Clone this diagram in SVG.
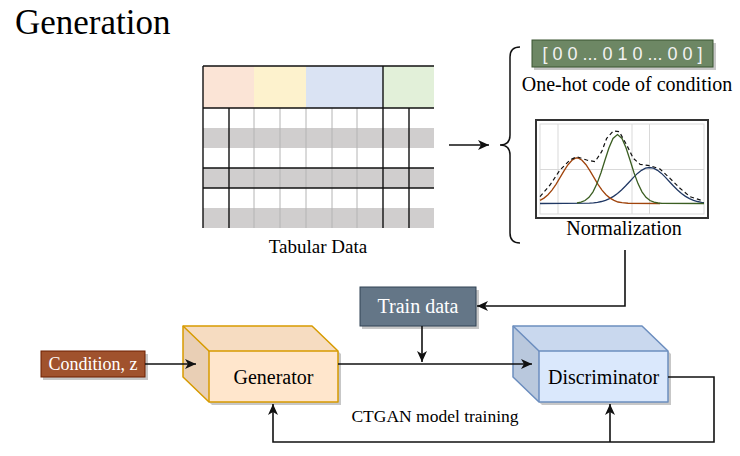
<svg xmlns="http://www.w3.org/2000/svg" width="740" height="456" viewBox="0 0 740 456">
<style>
.serif{font-family:"Liberation Serif","Times New Roman",serif;fill:#000}
.sans{font-family:"Liberation Sans",Arial,sans-serif}
.conn{fill:none;stroke:#111;stroke-width:1.6}
.sh{fill:#000;opacity:0.22}
.gl{stroke:#b4b4b4;stroke-width:1}
.bl{stroke:#111;stroke-width:1.4}
.grid{stroke:#d9d9d9;stroke-width:1;fill:none}
</style>
<defs>
<marker id="arr" markerUnits="userSpaceOnUse" markerWidth="12" markerHeight="10" refX="11" refY="5" orient="auto">
<path d="M0,0 L11,5 L0,10 L3,5 z" fill="#111"/>
</marker>
</defs>
<rect width="740" height="456" fill="#fff"/>
<text class="serif" x="15" y="34" font-size="35">Generation</text>

<g id="tabular-data">
<rect x="203" y="66" width="51" height="42" fill="#FBE4D6"/>
<rect x="254" y="66" width="52" height="42" fill="#FDF2CD"/>
<rect x="306" y="66" width="77" height="42" fill="#DAE3F3"/>
<rect x="383" y="66" width="51" height="42" fill="#E2F0D9"/>
<rect x="203" y="128" width="231" height="20" fill="#D0CECE"/>
<rect x="203" y="168" width="231" height="20" fill="#D0CECE"/>
<rect x="203" y="208" width="231" height="20" fill="#D0CECE"/>
<g class="gl">
<line x1="254" y1="108" x2="254" y2="228"/>
<line x1="280" y1="108" x2="280" y2="228"/>
<line x1="306" y1="108" x2="306" y2="228"/>
<line x1="332" y1="108" x2="332" y2="228"/>
<line x1="357" y1="108" x2="357" y2="228"/>
</g>
<g class="bl">
<line x1="203" y1="66" x2="434" y2="66"/>
<line x1="203" y1="108" x2="434" y2="108"/>
<line x1="203" y1="168" x2="434" y2="168"/>
<line x1="203" y1="188" x2="434" y2="188"/>
<line x1="203" y1="66" x2="203" y2="228"/>
<line x1="229" y1="108" x2="229" y2="228"/>
<line x1="383" y1="66" x2="383" y2="228"/>
<line x1="409" y1="108" x2="409" y2="228"/>
</g>
<text class="serif" x="318" y="253" font-size="19" text-anchor="middle">Tabular Data</text>
</g>

<g id="brace">
<path d="M520,47 Q510,47 510,57 L510,135 Q510,145 500,145 Q510,145 510,155 L510,233 Q510,243 520,243" fill="none" stroke="#111" stroke-width="1.5"/>
</g>

<g id="one-hot">
<rect class="sh" x="534" y="43" width="182" height="27"/>
<rect x="532" y="40" width="181" height="27" fill="#6D8764" stroke="#3A5431" stroke-width="1"/>
<text class="sans" x="622.5" y="60" font-size="18" fill="#f2f2f2" text-anchor="middle">[ 0 0 ... 0 1 0 ... 0 0 ]</text>
<text class="serif" x="627" y="91" font-size="20" text-anchor="middle">One-hot code of condition</text>
</g>

<g id="normalization">
<rect x="536" y="120" width="172" height="98" fill="#fff" stroke="#333" stroke-width="2"/>
<rect class="grid" x="540" y="124" width="164" height="90"/>
<line class="grid" x1="558" y1="124" x2="558" y2="214"/>
<line class="grid" x1="632" y1="124" x2="632" y2="214"/>
<line class="grid" x1="649.5" y1="124" x2="649.5" y2="214"/>
<line class="grid" x1="540" y1="169.5" x2="704" y2="169.5"/>
<polyline fill="none" stroke="#203864" stroke-width="1.3" points="540,203.5 589.5,203.1 593.5,202.8 597.5,202.3 601.5,201.5 605.5,200.3 609.5,198.6 613.5,196.4 617.5,193.5 621.5,190 625.5,186 629.5,181.7 633.5,177.4 637.5,173.4 641.5,170.3 645.5,168.2 649.5,167.5 653.5,168.2 657.5,170.3 661.5,173.4 665.5,177.4 669.5,181.7 673.5,186 677.5,190 681.5,193.5 685.5,196.4 689.5,198.6 693.5,200.3 697.5,201.5 701.5,202.3 704,202.6"/>
<polyline fill="none" stroke="#A0440C" stroke-width="1.3" points="540,200.4 544,198.1 548,194.7 552,190.1 556,184.3 560,177.6 564,170.8 568,164.7 572,160.2 576,158 578,158 582,160.2 586,164.7 590,170.8 594,177.6 598,184.3 602,190.1 606,194.7 610,198.1 614,200.4 618,202 622,202.7 628,203.25 660,203.5"/>
<polyline fill="none" stroke="#3B5E22" stroke-width="1.3" points="577,203 581,202.2 585,200.5 589,197.3 593,191.8 597,183.6 601,172.7 605,160 609,147.8 613,138.5 617.5,134.5 622,138.5 626,147.8 630,160 634,172.7 638,183.6 642,191.8 646,197.3 650,200.5 654,202.2 658,203 662,203.3 704,203.5"/>
<polyline fill="none" stroke="#111" stroke-width="1.2" stroke-dasharray="4,3" stroke-linejoin="round" points="540,196.7 550,185 560,170 570,160 576.7,156.7 586.7,160 595,161.7 601.7,151.7 606.7,138.3 613.3,131 619.3,131.7 626.7,145 633.3,158.3 640,164.3 650,165.7 660,169 670,178.3 680,188.3 690,196.7 703.3,201"/>
<text class="serif" x="624" y="235" font-size="20" text-anchor="middle">Normalization</text>
</g>

<g id="train-data">
<rect class="sh" x="362" y="290" width="117" height="39"/>
<rect x="360" y="287" width="116" height="39" fill="#647687" stroke="#314354" stroke-width="1"/>
<text class="serif" x="418" y="313" font-size="20" fill="#fff" style="fill:#fff" text-anchor="middle">Train data</text>
</g>

<g id="condition">
<rect class="sh" x="43" y="354" width="105" height="26"/>
<rect x="41" y="351" width="104" height="26" fill="#A0522D" stroke="#6D1F00" stroke-width="1"/>
<text class="serif" x="93" y="370" font-size="18" style="fill:#fff" text-anchor="middle">Condition, z</text>
</g>

<g id="generator">
<polygon class="sh" points="186,329 315,329 341,354 341,405 212,405 186,380"/>
<polygon points="183,326 209,351 209,402 183,377" fill="#E9CFB5"/>
<polygon points="183,326 312,326 338,351 209,351" fill="#F6DCC1"/>
<rect x="209" y="351" width="129" height="51" fill="#FFE6CC"/>
<polygon points="183,326 312,326 338,351 338,402 209,402 183,377" fill="none" stroke="#D79B00" stroke-width="1.5" stroke-linejoin="round"/>
<polyline points="183,326 209,351 338,351 M209,351" fill="none" stroke="#D79B00" stroke-width="1.5"/>
<line x1="209" y1="351" x2="209" y2="402" stroke="#D79B00" stroke-width="1.5"/>
<text class="serif" x="273.5" y="384" font-size="20" text-anchor="middle">Generator</text>
</g>

<g id="discriminator">
<polygon class="sh" points="516,329 645,329 671,354 671,405 542,405 516,380"/>
<polygon points="513,326 539,351 539,402 513,377" fill="#B9C8DD"/>
<polygon points="513,326 642,326 668,351 539,351" fill="#C9D8EE"/>
<rect x="539" y="351" width="129" height="51" fill="#DAE8FC"/>
<polygon points="513,326 642,326 668,351 668,402 539,402 513,377" fill="none" stroke="#6C8EBF" stroke-width="1.5" stroke-linejoin="round"/>
<polyline points="513,326 539,351 668,351" fill="none" stroke="#6C8EBF" stroke-width="1.5"/>
<line x1="539" y1="351" x2="539" y2="402" stroke="#6C8EBF" stroke-width="1.5"/>
<text class="serif" x="603.5" y="384" font-size="20" text-anchor="middle">Discriminator</text>
</g>

<text class="serif" x="435" y="422" font-size="17.5" text-anchor="middle">CTGAN model training</text>

<g id="connectors">
<line class="conn" x1="449" y1="145" x2="489" y2="145" marker-end="url(#arr)"/>
<polyline class="conn" points="625,250 625,306 477,306" marker-end="url(#arr)"/>
<line class="conn" x1="145" y1="364" x2="196" y2="364" marker-end="url(#arr)"/>
<line class="conn" x1="338" y1="364" x2="532" y2="364" marker-end="url(#arr)"/>
<line class="conn" x1="422" y1="326" x2="422" y2="362" marker-end="url(#arr)"/>
<polyline class="conn" points="668,377 714,377 714,442 273,442 273,404" marker-end="url(#arr)"/>
<line class="conn" x1="610" y1="442" x2="610" y2="404" marker-end="url(#arr)"/>
</g>
</svg>
